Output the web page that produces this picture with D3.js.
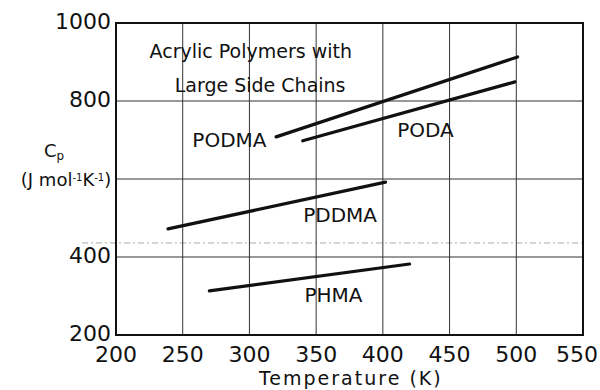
<!DOCTYPE html>
<html>
<head>
<meta charset="utf-8">
<script src="https://cdn.jsdelivr.net/npm/d3@7"></script>
<style>
  body { margin: 0; background: #fff; }
  text { font-family: "DejaVu Sans", sans-serif; fill: #111; }
</style>
</head>
<body>
<div id="chart"></div>
<script>
// data: straight Cp lines, [T start, T end] and [Cp start, Cp end]
var polymers = ["PODMA", "PODA", "PDDMA", "PHMA"];
var tempEnds = [[320, 501], [340, 499], [239, 402], [270, 420]];
var cpEnds = [[708, 913], [698, 849], [472, 592], [313, 382]];
var xTicks = [200, 250, 300, 350, 400, 450, 500, 550];
var yTicks = [200, 400, 800, 1000]; // 600 is covered by the unit label
var yGrid = [400, 600, 800];

var margin = { top: 23, right: 17, bottom: 55, left: 116 },
  width = 600 - margin.left - margin.right,
  height = 390 - margin.top - margin.bottom;

var x = d3.scaleLinear().domain([200, 550]).range([0, width]);
var y = d3.scaleLinear().domain([200, 1000]).range([height, 0]);

var svg = d3.select("#chart").append("svg")
  .attr("width", 600)
  .attr("height", 390)
  .append("g")
  .attr("transform", "translate(" + margin.left + "," + margin.top + ")");

// faint scanned guide line just above 400
svg.append("line")
  .attr("x1", -34).attr("x2", width)
  .attr("y1", y(436)).attr("y2", y(436))
  .style("stroke", "#aaa")
  .style("stroke-width", 1)
  .style("stroke-dasharray", "6,3,2,3");

// grid
svg.selectAll(".vgrid")
  .data(xTicks.slice(1, -1))
  .enter().append("line")
  .attr("class", "vgrid")
  .attr("x1", function (d) { return x(d); })
  .attr("x2", function (d) { return x(d); })
  .attr("y1", 0).attr("y2", height)
  .style("stroke", "#333")
  .style("stroke-width", 1);

svg.selectAll(".hgrid")
  .data(yGrid)
  .enter().append("line")
  .attr("class", "hgrid")
  .attr("x1", 0).attr("x2", width)
  .attr("y1", function (d) { return y(d); })
  .attr("y2", function (d) { return y(d); })
  .style("stroke", "#333")
  .style("stroke-width", 1);

// frame
svg.append("rect")
  .attr("width", width).attr("height", height)
  .style("fill", "none")
  .style("stroke", "#111")
  .style("stroke-width", 2);

// tick labels
svg.selectAll(".xlab")
  .data(xTicks)
  .enter().append("text")
  .attr("class", "xlab")
  .attr("x", function (d, i) { return x(d) + (i == xTicks.length - 1 ? -6 : 0); })
  .attr("y", height + 27)
  .style("text-anchor", "middle")
  .style("font-size", "22px")
  .text(function (d) { return d; });

svg.selectAll(".ylab")
  .data(yTicks)
  .enter().append("text")
  .attr("class", "ylab")
  .attr("x", -5)
  .attr("y", function (d) { return y(d); })
  .attr("dy", "0.28em")
  .style("text-anchor", "end")
  .style("font-size", "22px")
  .text(function (d) { return d; });

// axis titles
svg.append("text")
  .attr("x", x(376))
  .attr("y", height + 50)
  .style("text-anchor", "middle")
  .style("font-size", "19px")
  .style("letter-spacing", "2px")
  .text("Temperature (K)");

var cp = svg.append("text")
  .attr("x", -62)
  .attr("y", y(656))
  .style("text-anchor", "middle")
  .style("font-size", "18px");
cp.append("tspan").text("C");
cp.append("tspan").attr("baseline-shift", "-25%").style("font-size", "12px").text("p");

var unit = svg.append("text")
  .attr("x", -50)
  .attr("y", y(582))
  .style("text-anchor", "middle")
  .style("font-size", "18px");
unit.append("tspan").text("(J mol");
unit.append("tspan").attr("baseline-shift", "super").style("font-size", "10px").text("-1");
unit.append("tspan").text("K");
unit.append("tspan").attr("baseline-shift", "super").style("font-size", "10px").text("-1");
unit.append("tspan").text(")");

// title inside
svg.append("text")
  .attr("x", x(301))
  .attr("y", y(910))
  .style("text-anchor", "middle")
  .style("font-size", "19px")
  .text("Acrylic Polymers with");
svg.append("text")
  .attr("x", x(308))
  .attr("y", y(823))
  .style("text-anchor", "middle")
  .style("font-size", "19px")
  .text("Large Side Chains");

// data lines
var rows = polymers.map(function (p, i) {
  return { name: p, pts: [[tempEnds[i][0], cpEnds[i][0]], [tempEnds[i][1], cpEnds[i][1]]] };
});

var line = d3.line()
  .x(function (d) { return x(d[0]); })
  .y(function (d) { return y(d[1]); });

svg.selectAll(".series")
  .data(rows)
  .enter().append("path")
  .attr("class", "series")
  .attr("d", function (d) { return line(d.pts); })
  .style("fill", "none")
  .style("stroke", "#111")
  .style("stroke-width", 3.2)
  .style("stroke-linecap", "round");

// series labels (center T, baseline Cp)
var labelT = [285, 432, 368, 363];
var labelCp = [682, 708, 490, 285];
svg.selectAll(".plab")
  .data(rows)
  .enter().append("text")
  .attr("class", "plab")
  .attr("x", function (d, i) { return x(labelT[i]); })
  .attr("y", function (d, i) { return y(labelCp[i]); })
  .style("text-anchor", "middle")
  .style("font-size", "20px")
  .text(function (d) { return d.name; });
</script>
</body>
</html>
